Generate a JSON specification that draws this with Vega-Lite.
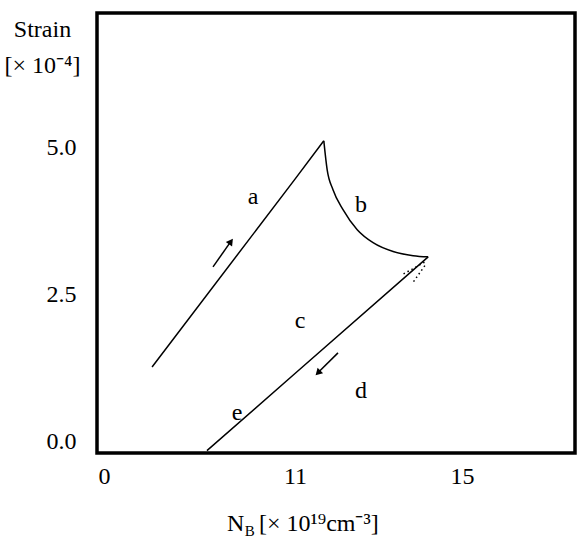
{
  "$schema": "https://vega.github.io/schema/vega-lite/v6.json",
  "width": 478,
  "height": 440,
  "autosize": "none",
  "padding": {"left": 97, "top": 13, "right": 4, "bottom": 92},
  "background": "white",
  "config": {
    "view": {"stroke": "black", "strokeWidth": 3.5},
    "font": "Liberation Serif",
    "axis": {"domain": false, "ticks": false, "grid": false, "labelFont": "Liberation Serif", "labelFontSize": 24, "labelColor": "black", "titleFont": "Liberation Serif", "titleColor": "black", "titleFontWeight": "normal"}
  },
  "datasets": {
    "lines": [
      {"series": "a", "order": 1, "x": 2.77, "y": 1.27},
      {"series": "a", "order": 2, "x": 11.0, "y": 4.46},
      {"series": "a", "order": 3, "x": 11.69, "y": 5.11},
      {"series": "c", "order": 1, "x": 14.19, "y": 3.14},
      {"series": "c", "order": 2, "x": 11.0, "y": 1.16},
      {"series": "c", "order": 3, "x": 5.93, "y": -0.15},
      {"series": "arrow1", "order": 1, "x": 6.28, "y": 2.97},
      {"series": "arrow1", "order": 2, "x": 7.28, "y": 3.39},
      {"series": "arrow2", "order": 1, "x": 12.03, "y": 1.51},
      {"series": "arrow2", "order": 2, "x": 11.56, "y": 1.18}
    ],
    "curve": [
      {"order": 1, "x": 11.69, "y": 5.11},
      {"order": 2, "x": 11.77, "y": 4.62},
      {"order": 3, "x": 11.91, "y": 4.28},
      {"order": 4, "x": 12.15, "y": 3.94},
      {"order": 5, "x": 12.49, "y": 3.60},
      {"order": 6, "x": 12.87, "y": 3.38},
      {"order": 7, "x": 13.35, "y": 3.23},
      {"order": 8, "x": 13.83, "y": 3.16},
      {"order": 9, "x": 14.19, "y": 3.14}
    ],
    "dots": [
      {"series": "d1", "order": 1, "x": 13.60, "y": 2.85},
      {"series": "d1", "order": 2, "x": 14.13, "y": 3.06},
      {"series": "d2", "order": 1, "x": 13.84, "y": 2.72},
      {"series": "d2", "order": 2, "x": 14.13, "y": 3.01}
    ],
    "heads": [
      {"arrow": "up", "x": 7.31, "y": 3.40},
      {"arrow": "down", "x": 11.55, "y": 1.17}
    ],
    "letters": [
      {"label": "a", "x": 8.58, "y": 4.16},
      {"label": "b", "x": 12.58, "y": 4.02},
      {"label": "c", "x": 11.12, "y": 2.05},
      {"label": "d", "x": 12.58, "y": 0.87},
      {"label": "e", "x": 7.66, "y": 0.49}
    ],
    "xtitle": [
      {"part": "N", "x": 7.08, "y": -1.51},
      {"part": "B", "x": 8.10, "y": -1.51},
      {"part": "[× 10¹⁹cm⁻³]", "x": 8.93, "y": -1.51}
    ]
  },
  "encoding": {
    "x": {
      "field": "x", "type": "quantitative",
      "scale": {"domain": [-0.4, 11, 15, 17.7], "range": [0, 198, 365, 478], "zero": false, "nice": false},
      "axis": {"values": [0, 11, 15], "format": "d", "title": null, "labelPadding": 11}
    },
    "y": {
      "field": "y", "type": "quantitative",
      "scale": {"domain": [-0.19, 7.28], "zero": false, "nice": false},
      "axis": {"values": [0, 2.5, 5], "format": ".1f", "labelPadding": 21,
        "title": ["Strain", "[× 10⁻⁴]"], "titleAngle": 0, "titleAlign": "center", "titleBaseline": "alphabetic",
        "titleX": -55, "titleY": 23, "titleFontSize": 24, "titleLineHeight": 36}
    }
  },
  "layer": [
    {
      "data": {"name": "lines"},
      "mark": {"type": "line", "color": "black", "strokeWidth": 1.5},
      "encoding": {"detail": {"field": "series"}, "order": {"field": "order"}}
    },
    {
      "data": {"name": "curve"},
      "mark": {"type": "line", "color": "black", "strokeWidth": 1.5, "interpolate": "monotone"},
      "encoding": {"order": {"field": "order"}}
    },
    {
      "data": {"name": "dots"},
      "mark": {"type": "line", "color": "black", "strokeWidth": 1.5, "strokeDash": [1.5, 3]},
      "encoding": {"detail": {"field": "series"}, "order": {"field": "order"}}
    },
    {
      "data": {"name": "heads"},
      "transform": [{"filter": "datum.arrow === 'up'"}],
      "mark": {"type": "point", "shape": "triangle-up", "filled": true, "color": "black", "size": 60, "angle": 36, "opacity": 1},
      "encoding": {}
    },
    {
      "data": {"name": "heads"},
      "transform": [{"filter": "datum.arrow === 'down'"}],
      "mark": {"type": "point", "shape": "triangle-up", "filled": true, "color": "black", "size": 60, "angle": 225, "opacity": 1},
      "encoding": {}
    },
    {
      "data": {"name": "letters"},
      "mark": {"type": "text", "font": "Liberation Serif", "fontSize": 24, "color": "black", "align": "center", "baseline": "middle"},
      "encoding": {"text": {"field": "label"}}
    },
    {
      "data": {"name": "xtitle"},
      "transform": [{"filter": "datum.part !== 'B'"}],
      "mark": {"type": "text", "font": "Liberation Serif", "fontSize": 24, "color": "black", "align": "left", "baseline": "alphabetic"},
      "encoding": {"text": {"field": "part"}}
    },
    {
      "data": {"name": "xtitle"},
      "transform": [{"filter": "datum.part === 'B'"}],
      "mark": {"type": "text", "font": "Liberation Serif", "fontSize": 15, "color": "black", "align": "left", "baseline": "alphabetic", "dy": 5},
      "encoding": {"text": {"field": "part"}}
    }
  ]
}
